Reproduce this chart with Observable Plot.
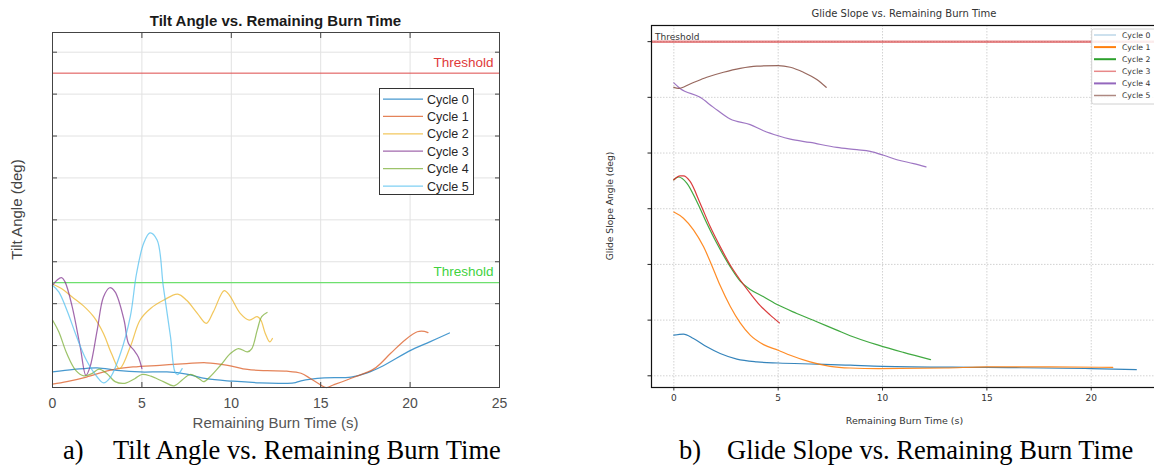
<!DOCTYPE html>
<html>
<head>
<meta charset="utf-8">
<script src="https://cdn.jsdelivr.net/npm/d3@7"></script>
<script src="https://cdn.jsdelivr.net/npm/@observablehq/plot@0.6"></script>
<style>
  html, body { margin: 0; padding: 0; background: #fff; width: 1154px; height: 466px; overflow: hidden; }
  #root { position: relative; width: 1154px; height: 466px; overflow: hidden; }
  #root > svg, #root > figure, #root > div { position: absolute; margin: 0; }
</style>
</head>
<body>
<div id="root"></div>
<script>
// ---------------- data ----------------
const cycles = ["Cycle 0", "Cycle 1", "Cycle 2", "Cycle 3", "Cycle 4", "Cycle 5"];

// Panel a) Tilt angle vs remaining burn time  [time (s), angle]
const tilt0 = [[0,0.37],[1.2,0.43],[2.5,0.47],[3.6,0.41],[4.9,0.37],[6.4,0.37],[7.5,0.32],[8.6,0.21],[10.1,0.15],[11.6,0.11],[12.7,0.1],[13.5,0.11],[13.9,0.16],[15.2,0.23],[16.7,0.25],[17.6,0.35],[18.5,0.52],[20,0.88],[21.1,1.09],[22.2,1.3]];
const tilt1 = [[0,0.08],[0.8,0.14],[1.9,0.25],[3.2,0.41],[4.5,0.49],[6,0.53],[7.5,0.57],[8.6,0.59],[9.8,0.53],[10.9,0.43],[12,0.4],[13.1,0.39],[13.9,0.34],[14.4,0.22],[15,0.06],[15.3,0],[15.7,0.06],[16.9,0.25],[18,0.45],[18.9,0.81],[19.7,1.13],[20.4,1.33],[20.8,1.34],[21,1.31]];
const tilt2 = [[0,2.47],[0.5,2.36],[1.1,2.16],[1.7,1.96],[2.3,1.69],[2.85,1.29],[3.3,0.81],[3.75,0.45],[4.35,0.97],[4.9,1.61],[5.5,1.89],[6.2,2.08],[7,2.23],[7.5,2.08],[8.1,1.77],[8.6,1.53],[9,1.81],[9.6,2.31],[9.9,2.2],[10.5,1.77],[11,1.61],[11.45,1.69],[11.65,1.61],[11.9,1.29],[12.15,1.09],[12.3,1.17]];
const tilt3 = [[0,2.44],[0.25,2.56],[0.5,2.62],[0.7,2.52],[1.1,1.93],[1.55,0.97],[1.87,0.29],[2.1,0.49],[2.5,1.37],[2.85,2.16],[3.2,2.38],[3.5,2.28],[4,1.61],[4.25,1.05],[4.55,0.89],[4.8,0.73],[5,0.45]];
const tilt4 = [[0,1.61],[0.35,1.33],[0.8,0.81],[1.3,0.41],[1.75,0.28],[2.2,0.33],[2.6,0.44],[3.05,0.33],[3.5,0.14],[4.05,0.1],[4.6,0.21],[5,0.31],[5.5,0.27],[6.2,0.14],[6.8,0.04],[7.25,0.18],[7.7,0.31],[8.2,0.21],[8.45,0.14],[8.8,0.25],[9.4,0.53],[9.95,0.81],[10.4,0.93],[10.9,0.85],[11.15,0.93],[11.45,1.37],[11.7,1.69],[12,1.79]];
const tilt5 = [[0,2.44],[0.35,2.28],[0.8,1.85],[1.35,1.21],[1.9,0.65],[2.5,0.25],[2.85,0.11],[3.25,0.25],[3.8,0.81],[4.35,1.69],[4.7,2.72],[5.1,3.44],[5.45,3.69],[5.85,3.52],[6.2,2.4],[6.6,1.21],[6.85,0.37],[7.0,0.31],[7.25,0.45]];
const tiltThresholdHigh = 7.5;
const tiltThresholdLow = 2.5;
const tiltXTicks = [0, 5, 10, 15, 20, 25];
const tiltYTicks = [0, 1, 2, 3, 4, 5, 6, 7, 8];

// Panel b) Glide slope vs remaining burn time  [time (s), angle]
const glide0 = [[0,0.73],[0.46,0.75],[0.94,0.67],[1.58,0.52],[2.22,0.4],[3.02,0.3],[3.98,0.25],[5,0.23],[6.85,0.21],[8.45,0.19],[10,0.17],[15,0.15],[20,0.13],[22.16,0.11]];
const glide1 = [[0,2.94],[0.46,2.83],[0.94,2.62],[1.42,2.32],[1.8,2.0],[2.22,1.62],[2.7,1.25],[3.18,0.95],[3.66,0.73],[4.3,0.56],[5,0.46],[5.58,0.37],[6.53,0.25],[7.49,0.17],[8.45,0.14],[9.8,0.13],[13,0.14],[15,0.16],[18,0.16],[21.03,0.15]];
const glide2 = [[0,3.52],[0.22,3.57],[0.62,3.46],[1.1,3.13],[1.58,2.74],[2.06,2.38],[2.7,1.96],[3.18,1.7],[3.66,1.55],[4.3,1.42],[5,1.27],[5.89,1.12],[6.85,0.97],[7.81,0.82],[8.45,0.72],[9.8,0.55],[11,0.42],[12.3,0.29]];
const glide3 = [[0,3.52],[0.3,3.59],[0.46,3.59],[0.78,3.49],[1.26,3.1],[1.74,2.68],[2.22,2.32],[2.7,1.99],[3.18,1.72],[3.66,1.48],[4.14,1.26],[4.62,1.09],[5.06,0.95]];
const glide4 = [[0,5.26],[0.3,5.16],[1.26,5.0],[1.9,4.82],[2.7,4.61],[3.66,4.51],[4.3,4.4],[5,4.31],[5.58,4.25],[6.53,4.19],[7.81,4.1],[8.77,4.06],[9.41,4.03],[10.05,3.96],[10.69,3.88],[11.49,3.81],[12.09,3.75]];
const glide5 = [[0,5.18],[0.22,5.16],[0.78,5.24],[1.58,5.36],[2.38,5.45],[3.18,5.52],[3.98,5.56],[5,5.57],[5.58,5.54],[6.21,5.45],[6.85,5.32],[7.3,5.18]];
const glideThreshold = 6;
const glideXTicks = [0, 5, 10, 15, 20];
const glideYTicks = [0, 1, 2, 3, 4, 5, 6];

const captionA = ["a)", "Tilt Angle vs. Remaining Burn Time"];
const captionB = ["b)", "Glide Slope vs. Remaining Burn Time"];

// ---------------- styles ----------------
const matlabColors = ["#0072BD", "#D95319", "#EDB120", "#7E2F8E", "#77AC30", "#4DBEEE"];
const tabColors = ["#1f77b4", "#ff7f0e", "#2ca02c", "#d62728", "#9467bd", "#8c564b"];
const SANS_A = "'Liberation Sans', Arial, Helvetica, sans-serif";
const SANS_B = "'DejaVu Sans', sans-serif";
const SERIF = "'Liberation Serif', 'Times New Roman', serif";

const toRows = (series) => series.flatMap((s, i) => s.map(([t, a]) => ({cycle: cycles[i], t, a})));
const tiltRows = toRows([tilt0, tilt1, tilt2, tilt3, tilt4, tilt5]);
const glideRows = toRows([glide0, glide1, glide2, glide3, glide4, glide5]);

const root = document.getElementById("root");

// ---------------- panel a ----------------
const plotA = Plot.plot({
  width: 520, height: 440,
  marginLeft: 52, marginRight: 21, marginTop: 32, marginBottom: 53,
  style: {fontFamily: SANS_A, fontSize: "14px", color: "#4d4d4d", background: "transparent", overflow: "visible"},
  x: {domain: [0, 25]},
  y: {domain: [0, 8.47]},
  color: {domain: cycles, range: matlabColors},
  marks: [
    Plot.gridX(tiltXTicks, {stroke: "#e2e2e2", strokeOpacity: 1}),
    Plot.gridY(tiltYTicks, {stroke: "#e2e2e2", strokeOpacity: 1}),
    Plot.ruleY([tiltThresholdHigh], {stroke: "#dd4a4a", strokeWidth: 1}),
    Plot.ruleY([tiltThresholdLow], {stroke: "#6ee06e", strokeWidth: 1.2}),
    Plot.text([tiltThresholdHigh], {y: d => d, frameAnchor: "right", textAnchor: "end", dx: -6, dy: -10, text: () => "Threshold", fill: "#e03a3a", fontSize: 13.5}),
    Plot.text([tiltThresholdLow], {y: d => d, frameAnchor: "right", textAnchor: "end", dx: -6, dy: -10.7, text: () => "Threshold", fill: "#3fd23f", fontSize: 13.5}),
    Plot.line(tiltRows, {x: "t", y: "a", z: "cycle", stroke: "cycle", curve: "catmull-rom", strokeWidth: 1.25, strokeOpacity: 0.72}),
    Plot.axisX(tiltXTicks, {anchor: "bottom", tickSize: 0, tickPadding: 11, label: null, color: "#4d4d4d"}),
    Plot.axisX(tiltXTicks, {anchor: "bottom", tickSize: -5, fill: "none", stroke: "#444", label: null}),
    Plot.axisX(tiltXTicks, {anchor: "top", tickSize: -5, fill: "none", stroke: "#444", label: null}),
    Plot.axisY(tiltYTicks, {anchor: "left", tickSize: -5, fill: "none", stroke: "#444", label: null}),
    Plot.axisY(tiltYTicks, {anchor: "right", tickSize: -5, fill: "none", stroke: "#444", label: null}),
    Plot.frame({stroke: "#444", strokeWidth: 1})
  ]
});
plotA.style.left = "0px";
plotA.style.top = "0px";
root.appendChild(plotA);

// ---------------- panel b ----------------
const plotB = Plot.plot({
  width: 575, height: 440,
  marginLeft: 61, marginRight: 5.4, marginTop: 25, marginBottom: 53,
  style: {fontFamily: SANS_B, fontSize: "9px", color: "#333", background: "transparent", overflow: "visible"},
  x: {domain: [-1.07, 23.3]},
  y: {domain: [-0.21, 6.29]},
  color: {domain: cycles, range: tabColors},
  marks: [
    Plot.gridX(glideXTicks, {stroke: "#b8b8b8", strokeOpacity: 0.8, strokeDasharray: "1.5,1.5", strokeWidth: 0.8}),
    Plot.gridY(glideYTicks, {stroke: "#b8b8b8", strokeOpacity: 0.8, strokeDasharray: "1.5,1.5", strokeWidth: 0.8}),
    Plot.ruleY([glideThreshold], {stroke: "#d62728", strokeOpacity: 0.55, strokeWidth: 2.5}),
    Plot.text([glideThreshold], {y: d => d, frameAnchor: "left", textAnchor: "start", dx: 3.5, dy: -5, text: () => "Threshold", fill: "#333", fontSize: 9}),
    Plot.line(glideRows, {x: "t", y: "a", z: "cycle", stroke: "cycle", curve: "monotone-x", strokeWidth: 1.2, strokeOpacity: 0.9}),
    Plot.axisX(glideXTicks, {anchor: "bottom", tickSize: 3.5, tickPadding: 4, label: null, color: "#333"}),
    Plot.axisY(glideYTicks, {anchor: "left", tickSize: 3.5, fill: "none", stroke: "#222", label: null}),
    Plot.frame({stroke: "#111", strokeWidth: 1.2})
  ]
});
plotB.style.left = "590px";
plotB.style.top = "0px";
root.appendChild(plotB);

// ---------------- overlay text, legends and captions ----------------
const ov = d3.select(root).append("svg")
  .attr("width", 1154).attr("height", 466)
  .style("left", "0px").style("top", "0px").style("pointer-events", "none");

function txt(x, y, s, o = {}) {
  const t = ov.append("text").attr("x", x).attr("y", y).text(s)
    .attr("font-family", o.family || SANS_A)
    .attr("font-size", o.size || 14)
    .attr("fill", o.fill || "#333")
    .attr("text-anchor", o.anchor || "start");
  if (o.weight) t.attr("font-weight", o.weight);
  if (o.rotate) t.attr("transform", `rotate(-90 ${x} ${y})`);
  return t;
}

// panel a texts
txt(275.5, 25.5, "Tilt Angle vs. Remaining Burn Time", {size: 15, weight: "bold", fill: "#1a1a1a", anchor: "middle"});
txt(275.5, 428, "Remaining Burn Time (s)", {size: 15, fill: "#555", anchor: "middle"});
txt(22, 209.5, "Tilt Angle (deg)", {size: 15, fill: "#444", anchor: "middle", rotate: true});

// panel a legend
ov.append("rect").attr("x", 379.5).attr("y", 88.5).attr("width", 94).attr("height", 106)
  .attr("fill", "#fff").attr("stroke", "#333").attr("stroke-width", 1);
cycles.forEach((c, i) => {
  const y = 99 + 17.4 * i;
  ov.append("line").attr("x1", 383).attr("x2", 423).attr("y1", y).attr("y2", y)
    .attr("stroke", matlabColors[i]).attr("stroke-width", 1.25).attr("stroke-opacity", 0.72);
  txt(427, y + 4.5, c, {size: 12.5, fill: "#262626"});
});

// panel b texts
txt(904, 17, "Glide Slope vs. Remaining Burn Time", {family: SANS_B, size: 10, fill: "#333", anchor: "middle"});
txt(904.5, 423.5, "Remaining Burn Time (s)", {family: SANS_B, size: 9.5, fill: "#333", anchor: "middle"});
txt(613, 206, "Glide Slope Angle (deg)", {family: SANS_B, size: 9.2, fill: "#333", anchor: "middle", rotate: true});

// panel b legend
const legW = [1, 2, 2, 1.5, 2, 1.5];
const legO = [0.45, 1, 1, 0.55, 1, 0.7];
ov.append("rect").attr("x", 1091.7).attr("y", 29).attr("width", 80).attr("height", 75).attr("rx", 2)
  .attr("fill", "#fff").attr("fill-opacity", 0.85).attr("stroke", "#d0d0d0").attr("stroke-width", 1);
cycles.forEach((c, i) => {
  const y = 35 + 12.1 * i;
  ov.append("line").attr("x1", 1094).attr("x2", 1116).attr("y1", y).attr("y2", y)
    .attr("stroke", tabColors[i]).attr("stroke-width", legW[i]).attr("stroke-opacity", legO[i]);
  txt(1122, y + 2.8, c, {family: SANS_B, size: 7.7, fill: "#333"});
});

// captions
txt(63, 459, captionA[0], {family: SERIF, size: 26.5, fill: "#000"});
txt(113, 459, captionA[1], {family: SERIF, size: 26.5, fill: "#000"});
txt(679, 459, captionB[0], {family: SERIF, size: 26.5, fill: "#000"});
txt(727, 459, captionB[1], {family: SERIF, size: 26.5, fill: "#000"});
</script>
</body>
</html>
